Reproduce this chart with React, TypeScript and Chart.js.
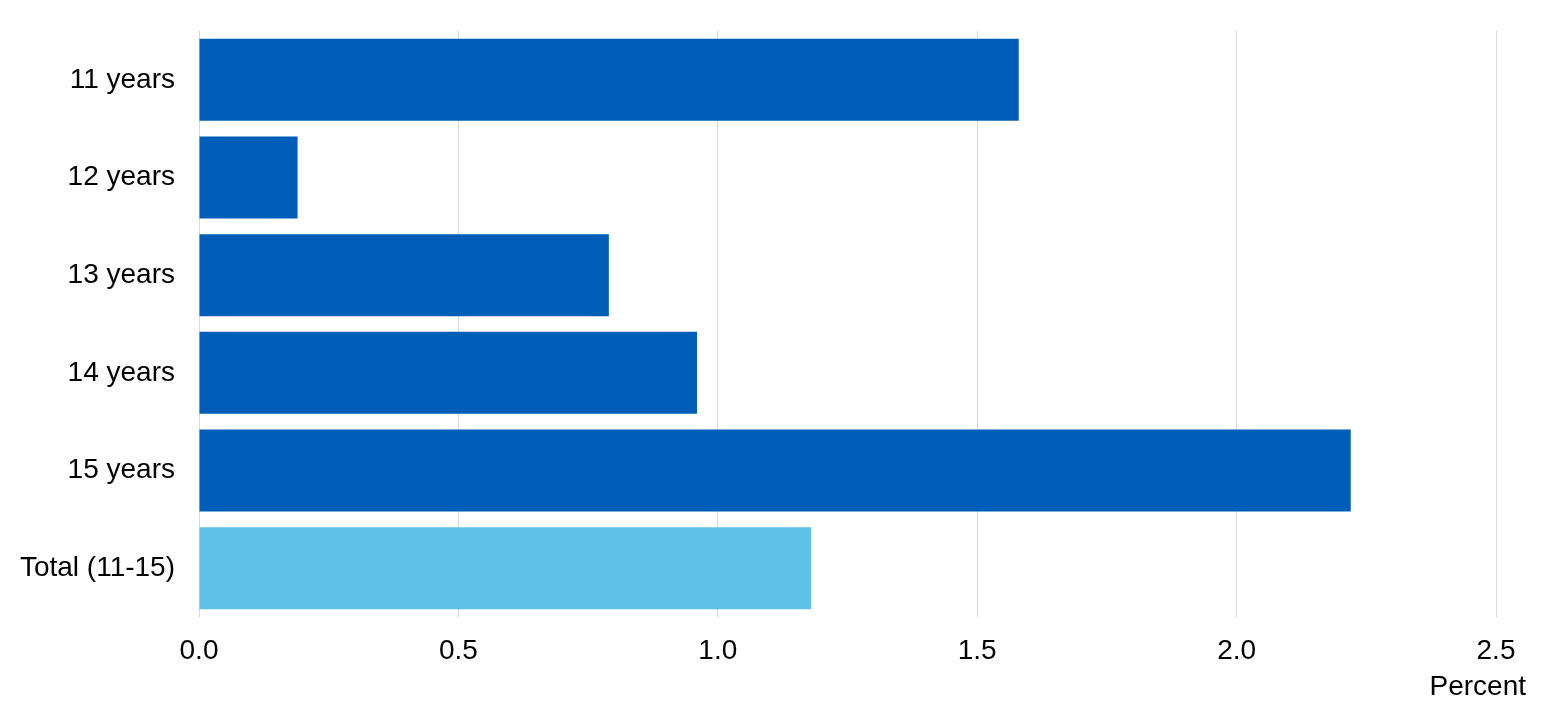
import React, { useEffect, useRef } from "react";
import { Chart, registerables } from "chart.js";

Chart.register(...registerables);

const categories = ["11 years", "12 years", "13 years", "14 years", "15 years", "Total (11-15)"];
const values = [1.58, 0.19, 0.79, 0.96, 2.22, 1.18];
const barColors = ["#005EB8", "#005EB8", "#005EB8", "#005EB8", "#005EB8", "#5EC1E8"];
const xAxisTitle = "Percent";
const xMax = 2.5;
const xStep = 0.5;

const FONT = '"Liberation Sans", Arial, sans-serif';

const axisTitlePlugin = {
  id: "axisTitleRight",
  afterDraw(chart: any) {
    const ctx = chart.ctx;
    const area = chart.chartArea;
    ctx.save();
    ctx.font = `28px ${FONT}`;
    ctx.fillStyle = "#000000";
    ctx.textAlign = "right";
    ctx.textBaseline = "alphabetic";
    ctx.fillText(xAxisTitle, area.right + 30, 695);
    ctx.restore();
  },
};

export default function App() {
  const ref = useRef<HTMLCanvasElement | null>(null);

  useEffect(() => {
    if (!ref.current) return;
    const chart = new Chart(ref.current, {
      type: "bar",
      data: {
        labels: categories,
        datasets: [
          {
            data: values,
            backgroundColor: barColors,
            borderWidth: 0,
            barPercentage: 0.84,
            categoryPercentage: 1,
          },
        ],
      },
      options: {
        indexAxis: "y",
        animation: false,
        responsive: false,
        maintainAspectRatio: false,
        layout: { padding: { left: 0, right: 63, top: 31, bottom: 0 } },
        plugins: {
          legend: { display: false },
          tooltip: { enabled: false },
        },
        scales: {
          x: {
            min: 0,
            max: xMax,
            border: { display: false },
            grid: { color: "#D9D9D9", lineWidth: 1, drawTicks: false },
            ticks: {
              stepSize: xStep,
              padding: 17,
              color: "#000000",
              font: { family: FONT, size: 28 },
              callback: (v: any) => Number(v).toFixed(1),
            },
            afterFit: (scale: any) => {
              scale.height = 98;
            },
          },
          y: {
            border: { display: false },
            grid: { display: false, drawTicks: false },
            ticks: {
              padding: 24,
              color: "#000000",
              font: { family: FONT, size: 28 },
            },
            afterFit: (scale: any) => {
              scale.width = 199;
              scale.paddingTop = 0;
              scale.paddingBottom = 0;
            },
          },
        },
      },
      plugins: [axisTitlePlugin],
    });
    return () => chart.destroy();
  }, []);

  return (
    <div style={{ position: "fixed", left: 0, top: 0, width: 1559, height: 715, background: "#ffffff" }}>
      <canvas ref={ref} width={1559} height={715} style={{ display: "block" }} />
    </div>
  );
}
